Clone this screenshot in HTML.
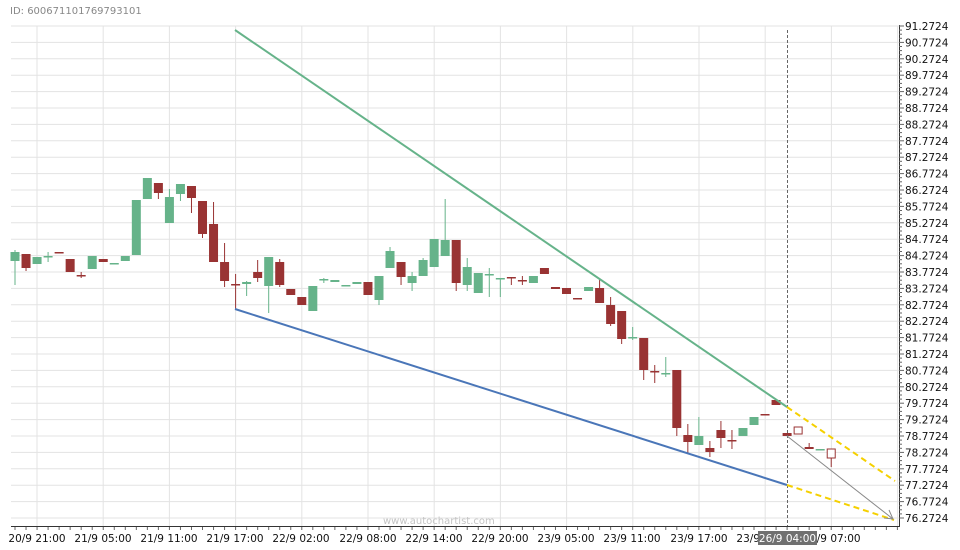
<!DOCTYPE html>
<html><head><meta charset="utf-8"><style>
html,body{margin:0;padding:0;background:#fff;}
svg{display:block;font-family:"DejaVu Sans","Liberation Sans",sans-serif;}
</style></head><body>
<svg id="s" width="960" height="550" viewBox="0 0 960 550" xmlns="http://www.w3.org/2000/svg">
<rect width="960" height="550" fill="#fff"/>
<text x="10" y="14" font-size="10" fill="#888">ID: 600671101769793101</text>
<g id="grid" stroke="#e3e3e3" stroke-width="1"></g>
<text x="383" y="524" font-size="10" fill="#c4c4c4">www.autochartist.com</text>
<g id="candles"></g>
<line x1="787.5" y1="30" x2="787.5" y2="526" stroke="#666" stroke-width="1" stroke-dasharray="3,2"/>
<line x1="235" y1="30" x2="787" y2="407" stroke="#66b38a" stroke-width="2"/>
<line x1="235" y1="309" x2="787" y2="485" stroke="#4a76b8" stroke-width="2"/>
<line x1="787" y1="407" x2="895" y2="481" stroke="#f5d000" stroke-width="2" stroke-dasharray="6,4"/>
<line x1="787" y1="485" x2="894" y2="520" stroke="#f5d000" stroke-width="2" stroke-dasharray="6,4"/>
<line x1="787" y1="436" x2="893" y2="519" stroke="#888" stroke-width="1"/>
<polyline points="884,518 893,519 889,510" fill="none" stroke="#888" stroke-width="1"/>
<line x1="11" y1="526.5" x2="899" y2="526.5" stroke="#333" stroke-width="1"/>
<line x1="899.5" y1="25" x2="899.5" y2="527" stroke="#333" stroke-width="1"/>
<g id="ticks" stroke="#666" stroke-width="1"></g>
<g font-size="10.5" fill="#111" id="ylab">
<text x="905" y="30">91.2724</text><text x="905" y="46.4">90.7724</text><text x="905" y="62.8">90.2724</text><text x="905" y="79.2">89.7724</text><text x="905" y="95.6">89.2724</text><text x="905" y="112">88.7724</text><text x="905" y="128.4">88.2724</text><text x="905" y="144.8">87.7724</text><text x="905" y="161.2">87.2724</text><text x="905" y="177.6">86.7724</text><text x="905" y="194">86.2724</text><text x="905" y="210.4">85.7724</text><text x="905" y="226.8">85.2724</text><text x="905" y="243.2">84.7724</text><text x="905" y="259.6">84.2724</text><text x="905" y="276">83.7724</text><text x="905" y="292.4">83.2724</text><text x="905" y="308.8">82.7724</text><text x="905" y="325.2">82.2724</text><text x="905" y="341.6">81.7724</text><text x="905" y="358">81.2724</text><text x="905" y="374.4">80.7724</text><text x="905" y="390.8">80.2724</text><text x="905" y="407.2">79.7724</text><text x="905" y="423.6">79.2724</text><text x="905" y="440">78.7724</text><text x="905" y="456.4">78.2724</text><text x="905" y="472.8">77.7724</text><text x="905" y="489.2">77.2724</text><text x="905" y="505.6">76.7724</text><text x="905" y="522">76.2724</text>
</g>
<g font-size="10.5" fill="#111" text-anchor="middle">
<text x="37" y="542">20/9 21:00</text><text x="103" y="542">21/9 05:00</text><text x="169" y="542">21/9 11:00</text><text x="235" y="542">21/9 17:00</text><text x="301" y="542">22/9 02:00</text><text x="368" y="542">22/9 08:00</text><text x="434" y="542">22/9 14:00</text><text x="500" y="542">22/9 20:00</text><text x="566" y="542">23/9 05:00</text><text x="632" y="542">23/9 11:00</text><text x="699" y="542">23/9 17:00</text><text x="765" y="542">23/9 23:00</text><text x="832" y="542">26/9 07:00</text>
</g>
<rect x="758" y="531" width="59" height="14" fill="#707070"/>
<text x="787.5" y="542" font-size="10.5" fill="#fff" text-anchor="middle">26/9 04:00</text>
</svg>
<script>
var NS="http://www.w3.org/2000/svg";
function el(p,t,a){var e=document.createElementNS(NS,t);for(var k in a)e.setAttribute(k,a[k]);p.appendChild(e);return e;}
var g=document.getElementById('grid');
for(var k=0;k<31;k++){var y=26+16.4*k;el(g,'line',{x1:11,x2:899,y1:y,y2:y});}
for(var k=0;k<14;k++){var x=37+66.2*k;el(g,'line',{x1:x,x2:x,y1:26,y2:526});}
var t=document.getElementById('ticks');
for(var k=0;k<31;k++){var y=26+16.4*k;el(t,'line',{x1:899,x2:904,y1:y,y2:y});
 for(var j=1;j<4&&k<30;j++){var yy=y+4.1*j;el(t,'line',{x1:899,x2:902,y1:yy,y2:yy});}}
for(var x=15;x<899;x+=11.03){el(t,'line',{x1:x,x2:x,y1:527,y2:530});}
var G='#66b38a',R='#993333';
var d=[
[252,261,250,285,G],[254,268,254,271,R],[257,264,0,0,G],[256,257,252,262,G],[252,253,0,0,R],[259,272,0,0,R],[275,276,272,278,R],[256,269,0,0,G],[259,262,0,0,R],[263,264,0,0,G],[256,261,0,0,G],[200,255,0,0,G],[178,199,0,0,G],[183,193,183,199,R],[197,223,189,223,G],[184,194,184,201,G],[186,198,186,213,R],[201,234,201,238,R],[224,262,202,262,R],[262,281,243,287,R],[284,285,274,309,R],[282,284,281,296,G],[272,278,260,282,R],[257,286,257,313,G],[262,285,259,287,R],[289,295,0,0,R],[297,305,0,0,R],[286,311,0,0,G],[279,280,278,283,G],[280,282,0,0,G],[285,286,0,0,G],[282,284,0,0,G],[282,295,0,0,R],[276,300,276,305,G],[251,268,247,268,G],[262,277,262,285,R],[276,283,272,291,G],[260,276,258,276,G],[239,267,0,0,G],[240,256,199,256,G],[240,283,240,291,R],[267,285,258,291,G],[273,293,0,0,G],[274,275,268,297,G],[278,279,278,297,G],[277,278,277,285,R],[280,281,276,285,R],[276,283,0,0,G],[268,274,0,0,R],[287,289,0,0,R],[288,294,0,0,R],[298,299,0,0,R],[287,291,0,0,G],[288,303,280,303,R],[305,324,297,326,R],[311,339,311,344,R],[337,338,327,340,G],[338,370,338,380,R],[371,372,365,383,R],[373,374,357,377,G],[370,428,370,436,R],[435,442,424,453,R],[436,445,417,445,G],[448,452,441,457,R],[430,438,421,448,R],[440,441,430,449,R],[428,436,0,0,G],[417,425,0,0,G],[414,415,0,0,R],[400,405,0,0,R],[433,436,0,0,R],['h',427,434,427,434,R],[447,449,443,449,R],[449,450,0,0,G],['h',449,458,449,467,R]];
var c=document.getElementById('candles');
d.forEach(function(a,i){var x=15+11.03*i,h=false;if(a[0]==='h'){h=true;a=a.slice(1);}
 var wt=a[2]||a[0],wb=a[3]||a[1];
 el(c,'line',{x1:x,x2:x,y1:wt,y2:wb,stroke:a[4],'stroke-width':1});
 if(h)el(c,'rect',{x:x-4,y:a[0],width:8,height:a[1]-a[0],fill:'#fff',stroke:a[4],'stroke-width':1});
 else el(c,'rect',{x:x-4.5,y:a[0],width:9,height:Math.max(1.5,a[1]-a[0]),fill:a[4]});
});
</script>
</body></html>
